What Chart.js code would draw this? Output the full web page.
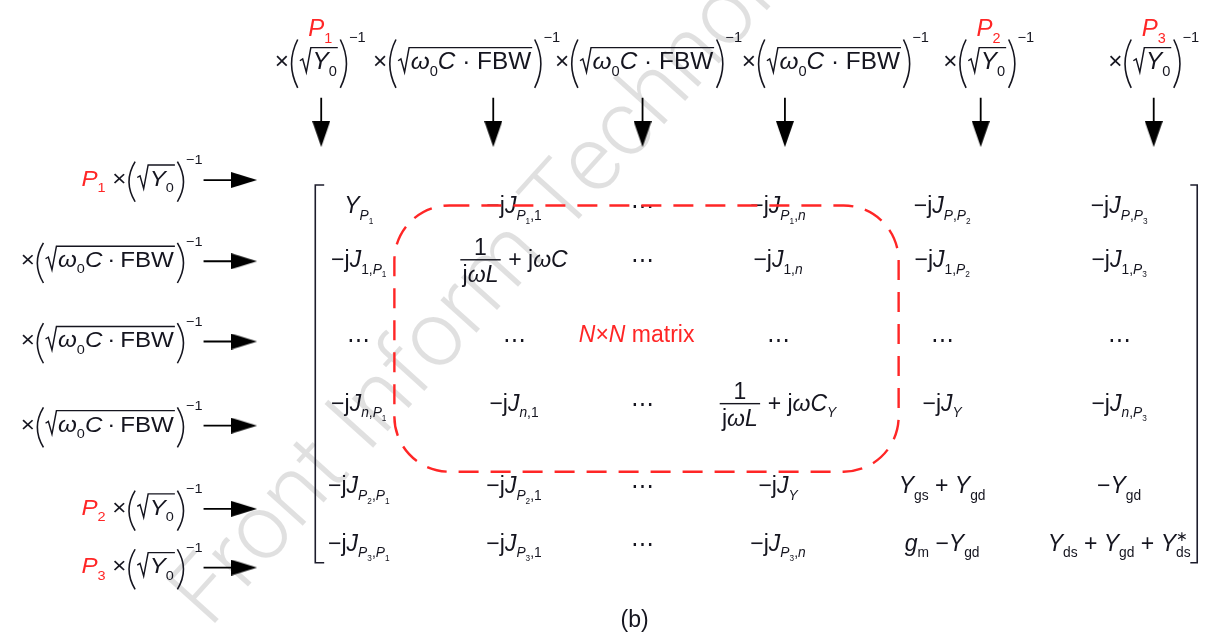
<!DOCTYPE html>
<html>
<head>
<meta charset="utf-8">
<script src="https://cdn.jsdelivr.net/npm/chart.js@4.4.1/dist/chart.umd.min.js"></script>
<style>
    html, body { margin: 0; padding: 0; background: #fff; overflow: hidden; }
</style>
</head>
<body>
<canvas id="matrixChart" width="1206" height="639"></canvas>
<script>
// Text content of the figure (tiny markup: *italic*, _{sub}, ^{sup}, \sqrt{}, \frac{}{}, \red{})
const Y0_SCALE = '×(\\sqrt{*Y*_0})^{−1}';
const FBW_SCALE = '×(\\sqrt{*ω*_0*C* · FBW})^{−1}';
const FBW_SCALE_LEFT = '×(\\sqrt{*ω*_0*C*\u2009·\u2009FBW})^{−1}';

const topPortLabels = ['*P*_1', '', '', '', '*P*_2', '*P*_3'];
const topScaleLabels = [Y0_SCALE, FBW_SCALE, FBW_SCALE, FBW_SCALE, Y0_SCALE, Y0_SCALE];
const leftPortLabels = ['*P*_1', '', '', '', '*P*_2', '*P*_3'];
const leftScaleLabels = [Y0_SCALE, FBW_SCALE_LEFT, FBW_SCALE_LEFT, FBW_SCALE_LEFT, Y0_SCALE, Y0_SCALE];

const matrixRows = [
    ['*Y*_{*P*_1}', '−j*J*_{*P*_1,1}', '⋯', '−j*J*_{*P*_1,*n*}', '−j*J*_{*P*,*P*_2}', '−j*J*_{*P*,*P*_3}'],
    ['−j*J*_{1,*P*_1}', '\\frac{1}{j*ωL*} + j*ωC*', '⋯', '−j*J*_{1,*n*}', '−j*J*_{1,*P*_2}', '−j*J*_{1,*P*_3}'],
    ['⋯', '⋯', '', '⋯', '⋯', '⋯'],
    ['−j*J*_{*n*,*P*_1}', '−j*J*_{*n*,1}', '⋯', '\\frac{1}{j*ωL*} + j*ωC*_{*Y*}', '−j*J*_{*Y*}', '−j*J*_{*n*,*P*_3}'],
    ['−j*J*_{*P*_2,*P*_1}', '−j*J*_{*P*_2,1}', '⋯', '−j*J*_{*Y*}', '*Y*_{gs} + *Y*_{gd}', '−*Y*_{gd}'],
    ['−j*J*_{*P*_3,*P*_1}', '−j*J*_{*P*_3,1}', '⋯', '−j*J*_{*P*_3,*n*}', '*g*_m −*Y*_{gd}', '*Y*_{ds} + *Y*_{gd} + *Y*_{ds}^{∗}']
];
const matrixLabel = '*N*×*N* matrix';
const figureLabel = '(b)';
const watermarkText = 'Front Inform Technol';

// Layout in scale units (the scales run 0..1206 and 0..639)
const topLabelX = [317, 465, 649, 838, 993, 1160];
const topArrowX = [318, 492, 643, 787, 985, 1160];
const leftArrowY = [177, 260, 342, 428, 513, 573];
const columnX = [356, 513, 643, 780, 946, 1125];
const rowY = [211, 266, 348, 413, 497, 556];

const FONT = '"Liberation Sans", Arial, Helvetica, sans-serif';
const INK = '#15151f';
const RED = '#ff2626';

const TOP_STYLE = { sx: 1.06, parenTop: 1.3, parenBot: 0.8 };
const LEFT_STYLE = { sx: 1.1, parenTop: 1.1, parenBot: 0.72 };
const CELL_STYLE = { sx: 1, parenTop: 1.2, parenBot: 0.7 };

// ---------- small math text renderer ----------
function readGroup(s, i) {
    if (s[i] !== '{') return [s[i], i + 1];
    let depth = 0;
    for (let j = i; j < s.length; j++) {
        if (s[j] === '{') depth++;
        else if (s[j] === '}') {
            depth--;
            if (depth === 0) return [s.slice(i + 1, j), j + 1];
        }
    }
    return [s.slice(i + 1), s.length];
}

function parseMath(s) {
    const nodes = [];
    let buf = '', italic = false, i = 0;
    const flush = () => { if (buf) nodes.push({ text: buf, italic: italic }); buf = ''; };
    while (i < s.length) {
        const c = s[i];
        if (c === '*') { flush(); italic = !italic; i++; }
        else if (c === '_' || c === '^') {
            flush();
            const [inner, j] = readGroup(s, i + 1);
            nodes.push({ script: c === '_' ? 'sub' : 'sup', kids: parseMath(inner) });
            i = j;
        } else if (c === '\\') {
            flush();
            const name = s.slice(i + 1).match(/^[a-z]+/)[0];
            i += 1 + name.length;
            if (name === 'frac') {
                const [a, j] = readGroup(s, i);
                const [b, k] = readGroup(s, j);
                nodes.push({ num: parseMath(a), den: parseMath(b) });
                i = k;
            } else {
                const [a, j] = readGroup(s, i);
                nodes.push({ cmd: name, kids: parseMath(a) });
                i = j;
            }
        } else if (c === '(' || c === ')') { flush(); nodes.push({ paren: c }); i++; }
        else { buf += c; i++; }
    }
    flush();
    return nodes;
}

// returns width; draws only when draw is true
function renderMath(ctx, nodes, x, y, size, draw, st) {
    let w = 0, prev = null, scriptStart = 0, scriptW = 0;
    for (const n of nodes) {
        if (n.text !== undefined) {
            ctx.font = (n.italic ? 'italic ' : '') + size + 'px ' + FONT;
            if (draw) ctx.fillText(n.text, x + w, y);
            w += ctx.measureText(n.text).width;
        } else if (n.script) {
            const small = size * 0.6;
            let dy = n.script === 'sub' ? size * 0.28 : -size * 0.45;
            if (n.script === 'sup' && prev && prev.paren) dy = -size * (st.parenTop - 0.12);
            if (prev && prev.script && prev.script !== n.script) {
                const sw = renderMath(ctx, n.kids, x + scriptStart, y + dy, small, draw, st);
                w = scriptStart + Math.max(scriptW, sw);
            } else {
                scriptStart = w;
                scriptW = renderMath(ctx, n.kids, x + w, y + dy, small, draw, st);
                w += scriptW;
            }
        } else if (n.paren) {
            const pw = size * 0.42;
            if (draw) {
                const top = y - size * st.parenTop, bot = y + size * st.parenBot, x0 = x + w;
                ctx.save();
                ctx.lineWidth = size * 0.065;
                ctx.strokeStyle = ctx.fillStyle;
                ctx.beginPath();
                if (n.paren === '(') {
                    ctx.moveTo(x0 + pw * 0.85, top);
                    ctx.quadraticCurveTo(x0 - pw * 0.35, (top + bot) / 2, x0 + pw * 0.85, bot);
                } else {
                    ctx.moveTo(x0 + pw * 0.15, top);
                    ctx.quadraticCurveTo(x0 + pw * 1.35, (top + bot) / 2, x0 + pw * 0.15, bot);
                }
                ctx.stroke();
                ctx.restore();
            }
            w += pw;
        } else if (n.num) {
            const a = renderMath(ctx, n.num, 0, 0, size, false, st);
            const b = renderMath(ctx, n.den, 0, 0, size, false, st);
            const fw = Math.max(a, b) + size * 0.2;
            if (draw) {
                const x0 = x + w, axis = y - size * 0.32;
                renderMath(ctx, n.num, x0 + (fw - a) / 2, axis - size * 0.2, size, true, st);
                renderMath(ctx, n.den, x0 + (fw - b) / 2, axis + size * 0.98, size, true, st);
                ctx.fillRect(x0, axis - 0.7, fw, 1.4);
            }
            w += fw + size * 0.05;
        } else if (n.cmd === 'sqrt') {
            const inner = renderMath(ctx, n.kids, 0, 0, size, false, st);
            const rw = size * 0.5;
            if (draw) {
                const x0 = x + w, bar = y - size * 0.95;
                ctx.save();
                ctx.lineWidth = Math.max(1, size * 0.06);
                ctx.strokeStyle = ctx.fillStyle;
                ctx.beginPath();
                ctx.moveTo(x0 + rw * 0.05, y - size * 0.38);
                ctx.lineTo(x0 + rw * 0.28, y - size * 0.46);
                ctx.lineTo(x0 + rw * 0.58, y + size * 0.12);
                ctx.lineTo(x0 + rw * 0.95, bar);
                ctx.lineTo(x0 + rw + inner + size * 0.08, bar);
                ctx.stroke();
                ctx.restore();
                renderMath(ctx, n.kids, x0 + rw + size * 0.04, y, size, true, st);
            }
            w += rw + inner + size * 0.12;
        } else if (n.cmd === 'red') {
            const keep = ctx.fillStyle;
            ctx.fillStyle = RED;
            w += renderMath(ctx, n.kids, x + w, y, size, draw, st);
            ctx.fillStyle = keep;
        }
        prev = n;
    }
    return w;
}

function drawMath(ctx, str, x, y, size, align, color, st) {
    st = st || CELL_STYLE;
    const nodes = parseMath(str);
    ctx.save();
    ctx.fillStyle = color || INK;
    ctx.textAlign = 'left';
    ctx.textBaseline = 'alphabetic';
    const w = renderMath(ctx, nodes, 0, 0, size, false, st) * st.sx;
    const x0 = align === 'center' ? x - w / 2 : (align === 'right' ? x - w : x);
    ctx.translate(x0, y);
    ctx.scale(st.sx, 1);
    renderMath(ctx, nodes, 0, 0, size, true, st);
    ctx.restore();
}

// ---------- arrow heads as point images ----------
function makeHead(w, h) {
    const c = document.createElement('canvas');
    c.width = w;
    c.height = h;
    const g = c.getContext('2d');
    g.fillStyle = '#000';
    g.beginPath();
    g.moveTo(0, 0);
    g.lineTo(w, 0);
    g.lineTo(w / 2, h);
    g.closePath();
    g.fill();
    return c;
}
const downHead = makeHead(18, 26);
const sideHead = makeHead(16, 26);

function arrowDataset(points, head, rotation) {
    return {
        data: points,
        showLine: true,
        borderColor: '#000',
        borderWidth: 1.8,
        pointRadius: [0, 5],
        pointStyle: [false, head],
        rotation: rotation,
        clip: false
    };
}

const datasets = [];
topArrowX.forEach(x => datasets.push(arrowDataset([{ x: x, y: 93 }, { x: x, y: 130 }], downHead, 0)));
leftArrowY.forEach(y => datasets.push(arrowDataset([{ x: 199, y: y }, { x: 240, y: y }], sideHead, -90)));

// matrix brackets
datasets.push({
    data: [{ x: 321, y: 182 }, { x: 312, y: 182 }, { x: 312, y: 568 }, { x: 321, y: 568 }],
    showLine: true, borderColor: '#1d1d2c', borderWidth: 1.6, pointRadius: 0, clip: false
});
datasets.push({
    data: [{ x: 1197, y: 182 }, { x: 1204, y: 182 }, { x: 1204, y: 568 }, { x: 1197, y: 568 }],
    showLine: true, borderColor: '#1d1d2c', borderWidth: 1.6, pointRadius: 0, clip: false
});

// draws watermark, all labels, matrix entries and the dashed N x N box
const figurePlugin = {
    id: 'figureText',
    beforeDatasetsDraw(chart) {
        const ctx = chart.ctx;
        const sx = chart.scales.x, sy = chart.scales.y;
        ctx.save();
        ctx.translate(sx.getPixelForValue(205), sy.getPixelForValue(636));
        ctx.rotate(-48 * Math.PI / 180);
        ctx.font = '300 92px Roboto, "Open Sans", ' + FONT;
        ctx.fillStyle = 'rgba(0, 0, 0, 0.12)';
        ctx.textBaseline = 'alphabetic';
        ctx.fillText(watermarkText, 0, 0);
        ctx.restore();
    },
    afterDatasetsDraw(chart) {
        const ctx = chart.ctx;
        const sx = chart.scales.x, sy = chart.scales.y;
        const px = v => sx.getPixelForValue(v);
        const py = v => sy.getPixelForValue(v);

        // column scale factors along the top
        topScaleLabels.forEach((lbl, i) => {
            drawMath(ctx, lbl, px(topLabelX[i]), py(64), 23, 'center', INK, TOP_STYLE);
            if (topPortLabels[i]) drawMath(ctx, topPortLabels[i], px(topLabelX[i]), py(30), 24, 'center', RED);
        });

        // row scale factors on the left
        leftScaleLabels.forEach((lbl, i) => {
            const full = (leftPortLabels[i] ? '\\red{' + leftPortLabels[i] + '} ' : '') + lbl;
            drawMath(ctx, full, px(198), py(leftArrowY[i] + 6), 22, 'right', INK, LEFT_STYLE);
        });

        // matrix entries
        matrixRows.forEach((row, r) => {
            row.forEach((cell, c) => {
                if (cell) drawMath(ctx, cell, px(columnX[c]), py(rowY[r]), 23, 'center');
            });
        });

        drawMath(ctx, matrixLabel, px(637), py(342), 23, 'center', RED);

        ctx.save();
        ctx.fillStyle = INK;
        ctx.font = '23px ' + FONT;
        ctx.textAlign = 'center';
        ctx.fillText(figureLabel, px(635), py(634));
        ctx.restore();

        // dashed rounded box around the N x N block
        ctx.save();
        ctx.strokeStyle = RED;
        ctx.lineWidth = 2.4;
        ctx.setLineDash([20, 12]);
        ctx.beginPath();
        ctx.roundRect(px(392), py(203), px(902) - px(392), py(475) - py(203), 55);
        ctx.stroke();
        ctx.restore();
    }
};

new Chart(document.getElementById('matrixChart'), {
    type: 'scatter',
    data: { datasets: datasets },
    options: {
        responsive: false,
        animation: false,
        events: [],
        layout: { padding: 0 },
        plugins: { legend: { display: false }, tooltip: { enabled: false } },
        scales: {
            x: { type: 'linear', min: 0, max: 1206, display: false },
            y: { type: 'linear', min: 0, max: 639, reverse: true, display: false }
        }
    },
    plugins: [figurePlugin]
});
</script>
</body>
</html>
